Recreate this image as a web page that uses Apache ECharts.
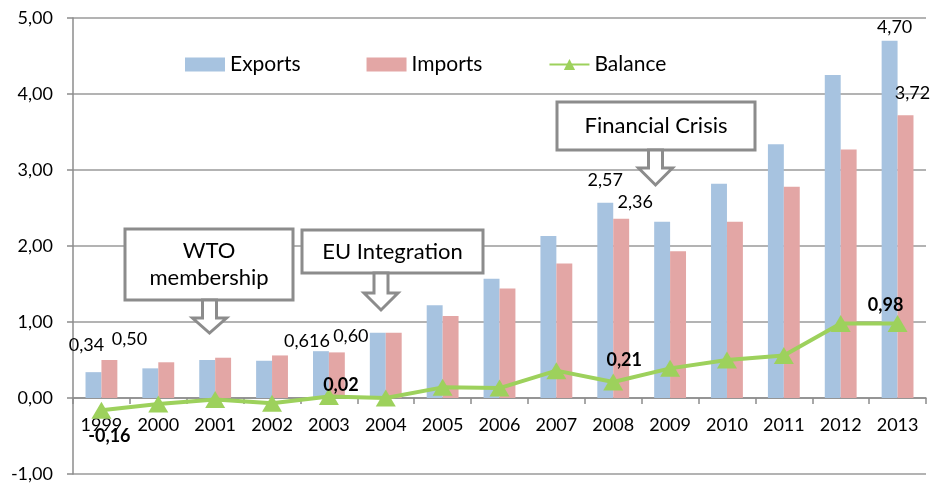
<!DOCTYPE html>
<html>
<head>
<meta charset="utf-8">
<script src="https://cdn.jsdelivr.net/npm/echarts@6/dist/echarts.min.js"></script>
<style>html,body{margin:0;padding:0;background:#fff}#c{width:931px;height:484px}</style>
</head>
<body>
<div id="c"></div>
<script>
const years = ['1999','2000','2001','2002','2003','2004','2005','2006','2007','2008','2009','2010','2011','2012','2013'];
const exportsVals = [0.34,0.39,0.50,0.49,0.616,0.86,1.22,1.57,2.13,2.57,2.32,2.82,3.34,4.25,4.70];
const importsVals = [0.50,0.47,0.53,0.56,0.60,0.86,1.08,1.44,1.77,2.36,1.93,2.32,2.78,3.27,3.72];
const balanceVals = [-0.16,-0.08,-0.02,-0.07,0.02,0.00,0.14,0.13,0.36,0.21,0.39,0.50,0.56,0.98,0.98];
const yTicks = [-1,0,1,2,3,4,5];

const FONT = 'Lato, "Open Sans", sans-serif';
const fmt = (v, d) => v.toFixed(d).replace('.', ',');

// label placement for selected points (index -> offset)
const expLabels = {0:[-7,-13], 4:[-14,4], 9:[0,-8], 14:[5,0]};
const impLabels = {0:[20,-7], 4:[14,-2], 9:[14,-2], 14:[7,-8]};
const balLabels = {0:[8,26], 4:[12,-11], 9:[11,-22], 14:[-12,-18]};

function barData(vals, labels, isExp) {
  return vals.map((v, i) => {
    const item = {value: v};
    if (labels[i]) {
      item.label = {show: true, position: 'top', offset: labels[i],
        formatter: () => (isExp && i === 4) ? '0,616' : fmt(v, 2)};
    }
    return item;
  });
}
function lineData(vals, labels) {
  return vals.map((v, i) => {
    const item = {value: v};
    if (labels[i]) {
      item.label = {show: true, position: 'inside', offset: labels[i], fontWeight: 'bold',
        formatter: () => fmt(v, 2)};
    }
    return item;
  });
}

const gray = '#8c8c8c';
function box(x, y, w, h, text) {
  return [
    {type: 'rect', z: 100, shape: {x: x, y: y, width: w, height: h},
     style: {fill: '#fff', stroke: gray, lineWidth: 3}},
    {type: 'text', z: 101, x: x + w / 2, y: y + h / 2,
     style: {text: text, fill: '#000', font: '22px ' + FONT, align: 'center', verticalAlign: 'middle', lineHeight: 27}}
  ];
}
function arrow(cx, top, shaftBottom, tip) {
  return {type: 'polygon', z: 100,
    shape: {points: [[cx - 7, top], [cx + 7, top], [cx + 7, shaftBottom], [cx + 17, shaftBottom], [cx, tip], [cx - 17, shaftBottom], [cx - 7, shaftBottom]]},
    style: {fill: '#fff', stroke: gray, lineWidth: 3}};
}

const chart = echarts.init(document.getElementById('c'), null, {renderer: 'canvas'});
chart.setOption({
  animation: false,
  backgroundColor: '#fff',
  textStyle: {fontFamily: FONT},
  grid: {left: 73, right: 5, top: 18, bottom: 10, containLabel: false, outerBoundsMode: 'none'},
  legend: {
    left: 180, top: 49, itemWidth: 40, itemHeight: 14, itemGap: 66,
    textStyle: {fontSize: 21, color: '#000', fontFamily: FONT},
    data: [
      {name: 'Exports', icon: 'rect'},
      {name: 'Imports', icon: 'rect'},
      {name: 'Balance'}
    ]
  },
  xAxis: {
    type: 'category', data: years,
    axisLine: {onZero: false, lineStyle: {color: gray, width: 1.5}},
    axisTick: {show: true, alignWithLabel: false, length: 6, lineStyle: {color: gray, width: 1.5}},
    axisLabel: {color: '#000', fontSize: 18, margin: 18, fontFamily: FONT, interval: 0},
    splitLine: {show: false}
  },
  yAxis: {
    type: 'value', min: -1, max: 5, interval: 1,
    axisLine: {show: true, lineStyle: {color: gray, width: 1.5}},
    axisTick: {show: true, length: 6, lineStyle: {color: gray, width: 1.5}},
    axisLabel: {color: '#000', fontSize: 18, margin: 20, fontFamily: FONT,
      formatter: v => yTicks.includes(v) ? fmt(v, 2) : ''},
    splitLine: {show: true, lineStyle: {color: '#9a9a9a', width: 1.5}}
  },
  series: [
    {name: 'Exports', type: 'bar', data: barData(exportsVals, expLabels, true),
     itemStyle: {color: '#A7C3E0'}, barGap: '0%', barCategoryGap: '44%',
     label: {color: '#000', fontSize: 18, fontFamily: FONT}, z: 2},
    {name: 'Imports', type: 'bar', data: barData(importsVals, impLabels, false),
     itemStyle: {color: '#E3A6A5'}, barGap: '0%', barCategoryGap: '44%',
     label: {color: '#000', fontSize: 18, fontFamily: FONT}, z: 2},
    {name: 'Balance', type: 'line', data: lineData(balanceVals, balLabels),
     symbol: 'triangle', symbolSize: [20, 17], showAllSymbol: true,
     lineStyle: {color: '#9DD15C', width: 4},
     itemStyle: {color: '#9DD15C'},
     label: {color: '#000', fontSize: 18, fontFamily: FONT}, z: 5}
  ],
  graphic: [
    ...box(125, 229, 168, 71, 'WTO\nmembership'),
    arrow(209.5, 300, 318, 333),
    ...box(302, 230, 181, 43, 'EU Integration'),
    arrow(381, 273, 293, 310),
    ...box(557, 102, 198, 48, 'Financial Crisis'),
    arrow(655.5, 150, 168, 185)
  ]
});
// move the category axis (line, ticks, labels) up to the zero line, using the value scale
const zeroPx = chart.convertToPixel({yAxisIndex: 0}, 0);
const minPx = chart.convertToPixel({yAxisIndex: 0}, yTicks[0]);
chart.setOption({xAxis: {offset: zeroPx - minPx}});
</script>
</body>
</html>
